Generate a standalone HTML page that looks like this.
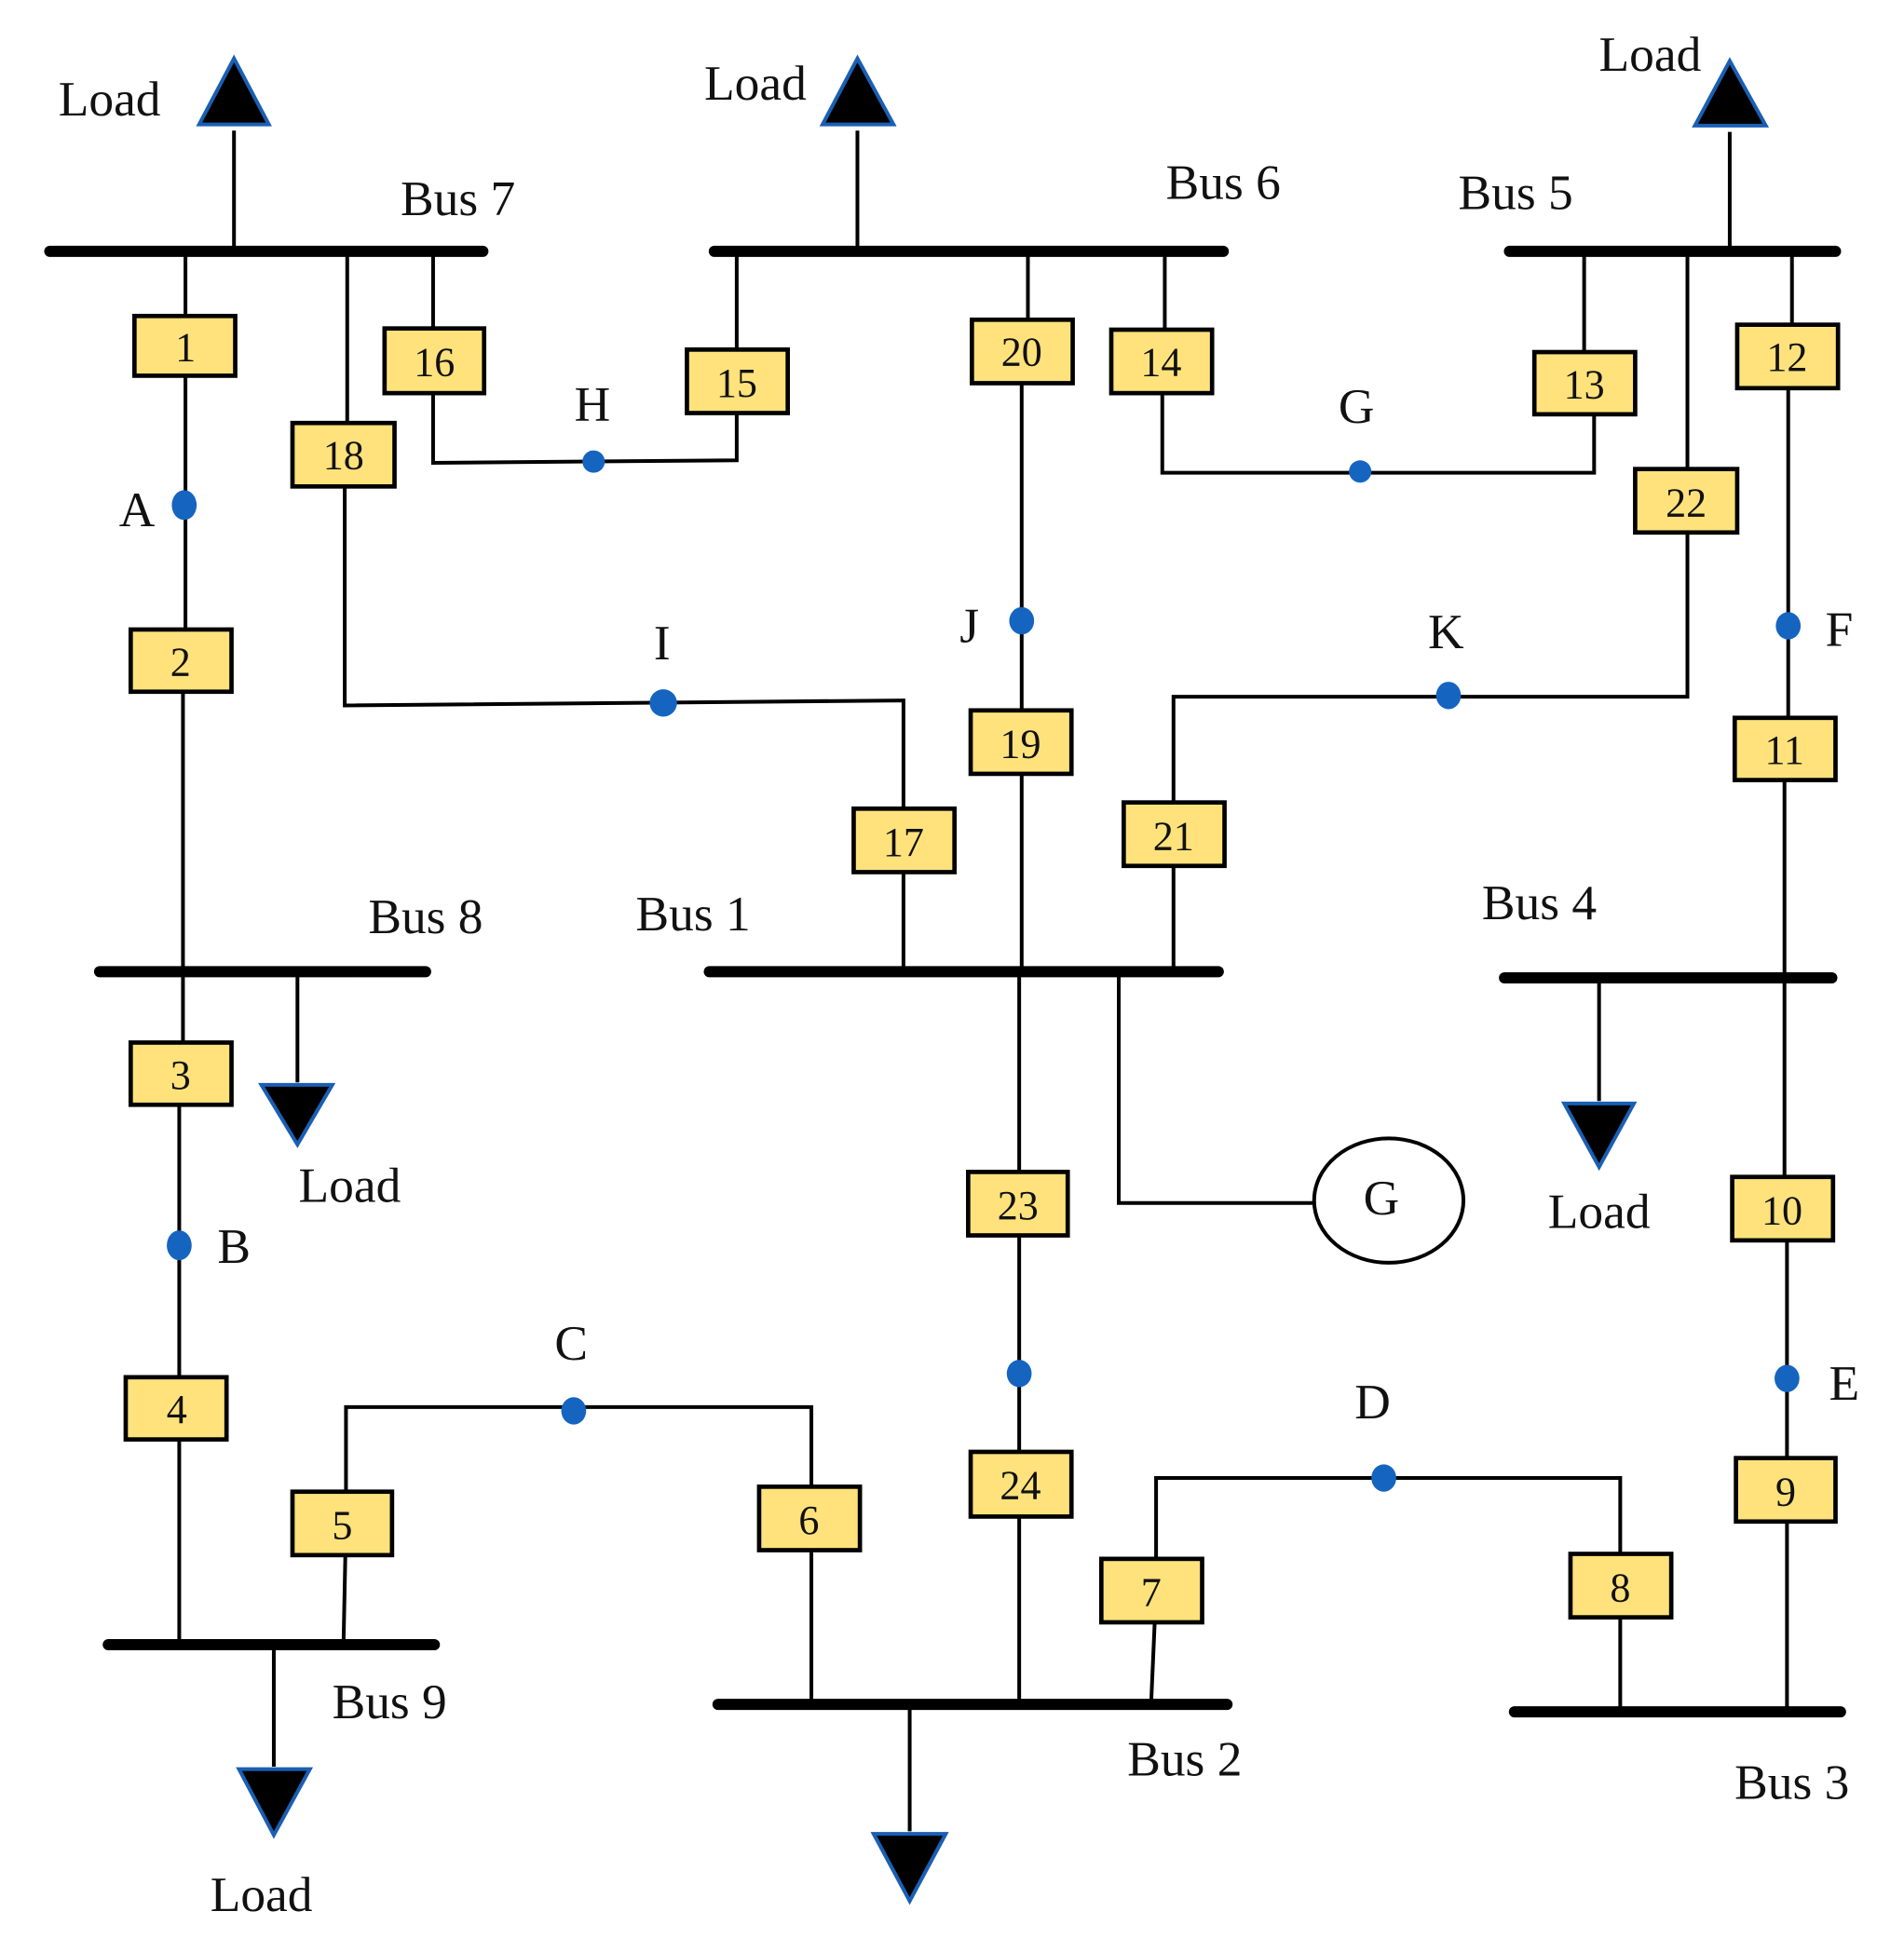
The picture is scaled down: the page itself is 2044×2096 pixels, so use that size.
<!DOCTYPE html>
<html><head><meta charset="utf-8"><style>
html,body{margin:0;padding:0;background:#fff;}
svg{display:block;}
text{font-family:"Liberation Serif",serif;fill:#111;}
.lbl{font-size:40px;}
.num{font-size:33px;}
</style></head><body>
<svg width="2044" height="2096" viewBox="0 0 1530 1569" xmlns="http://www.w3.org/2000/svg">
<g stroke="#000" stroke-width="9" stroke-linecap="round">
<line x1="40" y1="202" x2="388" y2="202"/>
<line x1="574" y1="202" x2="983" y2="202"/>
<line x1="1213" y1="202" x2="1475" y2="202"/>
<line x1="80" y1="781" x2="342" y2="781"/>
<line x1="570" y1="781" x2="979" y2="781"/>
<line x1="1209" y1="786" x2="1472" y2="786"/>
<line x1="87" y1="1322" x2="349" y2="1322"/>
<line x1="577" y1="1370" x2="986" y2="1370"/>
<line x1="1217" y1="1376" x2="1479" y2="1376"/>
</g>
<g stroke="#000" stroke-width="3" fill="none">
<line x1="188" y1="202" x2="188" y2="105"/>
<line x1="689" y1="202" x2="689" y2="105"/>
<line x1="1390" y1="202" x2="1390" y2="106"/>
<line x1="239" y1="781" x2="239" y2="870"/>
<line x1="1285" y1="786" x2="1285" y2="885"/>
<line x1="220" y1="1322" x2="220" y2="1420"/>
<line x1="731" y1="1370" x2="731" y2="1472"/>
<line x1="149" y1="202" x2="149" y2="530"/>
<line x1="147" y1="530" x2="147" y2="863"/>
<line x1="144" y1="863" x2="144" y2="1322"/>
<line x1="279" y1="202" x2="279" y2="365"/>
<polyline points="277,365 277,567 726,563 726,781"/>
<polyline points="348,202 348,372 592,370 592,202"/>
<line x1="826" y1="202" x2="826" y2="282"/>
<line x1="821" y1="282" x2="821" y2="781"/>
<line x1="819" y1="781" x2="819" y2="1370"/>
<line x1="936" y1="202" x2="936" y2="290"/>
<polyline points="934,290 934,380 1281,380 1281,308"/>
<line x1="1273" y1="202" x2="1273" y2="308"/>
<polyline points="1356,202 1356,560 943,560 943,781"/>
<line x1="1440" y1="202" x2="1440" y2="286"/>
<line x1="1437" y1="286" x2="1437" y2="602"/>
<line x1="1434" y1="602" x2="1434" y2="972"/>
<line x1="1436" y1="972" x2="1436" y2="1376"/>
<polyline points="899,781 899,967 1056,967"/>
<polyline points="276,1322 278,1225 278,1131 652,1131 652,1370"/>
<polyline points="925,1370 929,1279 929,1188 1302,1188 1302,1376"/>
</g>
<ellipse cx="1116" cy="965" rx="60" ry="50" fill="#fff" stroke="#000" stroke-width="3"/>
<g fill="#000" stroke="#1a5fb4" stroke-width="3">
<polygon points="188,47 160,100 216,100"/>
<polygon points="689,47 661,100 718,100"/>
<polygon points="1390,49 1362,101 1419,101"/>
<polygon points="210,872 267,872 239,920"/>
<polygon points="1257,887 1313,887 1285,938"/>
<polygon points="192,1422 249,1422 220,1475"/>
<polygon points="702,1474 760,1474 731,1528"/>
</g>
<g fill="#1565c0">
<ellipse cx="148" cy="406" rx="10" ry="12"/>
<ellipse cx="477" cy="371" rx="9" ry="9"/>
<ellipse cx="1093" cy="379" rx="9" ry="9"/>
<ellipse cx="533" cy="565" rx="11" ry="11"/>
<ellipse cx="821" cy="499" rx="10" ry="11"/>
<ellipse cx="1164" cy="559" rx="10" ry="11"/>
<ellipse cx="1437" cy="503" rx="10" ry="11"/>
<ellipse cx="144" cy="1001" rx="10" ry="12"/>
<ellipse cx="819" cy="1104" rx="10" ry="11"/>
<ellipse cx="461" cy="1134" rx="10" ry="11"/>
<ellipse cx="1112" cy="1188" rx="10" ry="11"/>
<ellipse cx="1436" cy="1108" rx="10" ry="11"/>
</g>
<g fill="#ffe27c" stroke="#000" stroke-width="3.5">
<rect x="108" y="254" width="81" height="48"/>
<rect x="105" y="506" width="81" height="50"/>
<rect x="105" y="838" width="81" height="50"/>
<rect x="101" y="1107" width="81" height="50"/>
<rect x="235" y="1199" width="80" height="51"/>
<rect x="610" y="1195" width="81" height="51"/>
<rect x="885" y="1253" width="81" height="51"/>
<rect x="1262" y="1249" width="81" height="51"/>
<rect x="1395" y="1172" width="80" height="51"/>
<rect x="1392" y="946" width="81" height="51"/>
<rect x="1394" y="577" width="81" height="50"/>
<rect x="1396" y="261" width="81" height="51"/>
<rect x="1233" y="283" width="81" height="50"/>
<rect x="893" y="265" width="81" height="51"/>
<rect x="552" y="281" width="81" height="51"/>
<rect x="309" y="264" width="80" height="52"/>
<rect x="686" y="650" width="81" height="51"/>
<rect x="235" y="340" width="82" height="51"/>
<rect x="780" y="571" width="81" height="51"/>
<rect x="781" y="257" width="81" height="51"/>
<rect x="903" y="645" width="81" height="51"/>
<rect x="1314" y="377" width="82" height="51"/>
<rect x="778" y="942" width="80" height="51"/>
<rect x="780" y="1167" width="81" height="52"/>
</g>
<g class="num" text-anchor="middle">
<text x="149" y="290">1</text>
<text x="145" y="543">2</text>
<text x="145" y="875">3</text>
<text x="142" y="1144">4</text>
<text x="275" y="1237">5</text>
<text x="650" y="1233">6</text>
<text x="925" y="1291">7</text>
<text x="1302" y="1287">8</text>
<text x="1435" y="1210">9</text>
<text x="1432" y="984">10</text>
<text x="1434" y="614">11</text>
<text x="1436" y="298">12</text>
<text x="1273" y="320">13</text>
<text x="933" y="302">14</text>
<text x="592" y="319">15</text>
<text x="349" y="302">16</text>
<text x="726" y="688">17</text>
<text x="276" y="377">18</text>
<text x="820" y="609">19</text>
<text x="821" y="294">20</text>
<text x="943" y="683">21</text>
<text x="1355" y="415">22</text>
<text x="818" y="980">23</text>
<text x="820" y="1205">24</text>
</g>
<g class="lbl" text-anchor="middle">
<text x="88" y="93">Load</text>
<text x="607" y="80">Load</text>
<text x="1326" y="57">Load</text>
<text x="281" y="966">Load</text>
<text x="1285" y="987">Load</text>
<text x="210" y="1536">Load</text>
<text x="368" y="173">Bus 7</text>
<text x="983" y="160">Bus 6</text>
<text x="1218" y="168">Bus 5</text>
<text x="342" y="750">Bus 8</text>
<text x="557" y="748">Bus 1</text>
<text x="1237" y="739">Bus 4</text>
<text x="313" y="1381">Bus 9</text>
<text x="952" y="1427">Bus 2</text>
<text x="1440" y="1446">Bus 3</text>
<text x="476" y="338">H</text>
<text x="1090" y="340">G</text>
<text x="110" y="423">A</text>
<text x="532" y="530">I</text>
<text x="779" y="516">J</text>
<text x="1162" y="521">K</text>
<text x="1478" y="519">F</text>
<text x="188" y="1015">B</text>
<text x="459" y="1093">C</text>
<text x="1103" y="1140">D</text>
<text x="1482" y="1125">E</text>
<text x="1110" y="976">G</text>
</g>
</svg>
</body></html>
